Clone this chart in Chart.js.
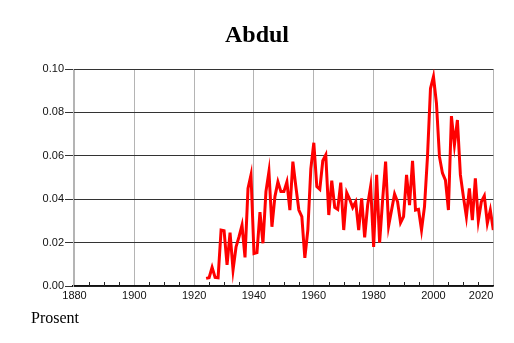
<!DOCTYPE html>
<html><head><meta charset="utf-8">
<script src="https://cdn.jsdelivr.net/npm/chart.js@4.4.0/dist/chart.umd.min.js"></script>
<style>html,body{margin:0;padding:0;background:#fff;}#c{display:block;}</style>
</head><body>
<canvas id="c" width="514" height="343"></canvas>
<script>
const titleText = "Abdul";
const yAxisCaption = "Prosent";
const years = [1924,1925,1926,1927,1928,1929,1930,1931,1932,1933,1934,1935,1936,1937,1938,1939,
1940,1941,1942,1943,1944,1945,1946,1947,1948,1949,1950,1951,1952,1953,1954,1955,1956,1957,1958,1959,
1960,1961,1962,1963,1964,1965,1966,1967,1968,1969,1970,1971,1972,1973,1974,1975,1976,1977,1978,1979,
1980,1981,1982,1983,1984,1985,1986,1987,1988,1989,1990,1991,1992,1993,1994,1995,1996,1997,1998,1999,
2000,2001,2002,2003,2004,2005,2006,2007,2008,2009,2010,2011,2012,2013,2014,2015,2016,2017,2018,2019,2020];
const values = [0.0035,0.0038,0.0086,0.0040,0.0038,0.0258,0.0255,0.0097,0.0246,0.0074,0.0180,0.0227,0.0280,0.0132,0.0450,0.0512,
0.0150,0.0154,0.0340,0.0197,0.0435,0.0527,0.0273,0.0412,0.0480,0.0435,0.0435,0.0480,0.0350,0.0573,0.0458,0.0350,0.0320,0.0130,0.0258,0.0540,
0.0660,0.0458,0.0445,0.0577,0.0604,0.0327,0.0485,0.0362,0.0353,0.0476,0.0258,0.0430,0.0400,0.0362,0.0388,0.0258,0.0404,0.0224,0.0373,0.0460,
0.0180,0.0512,0.0200,0.0396,0.0573,0.0276,0.0350,0.0424,0.0388,0.0292,0.0320,0.0512,0.0373,0.0577,0.0350,0.0353,0.0258,0.0366,0.0596,0.0910,
0.0965,0.0842,0.0596,0.0520,0.0488,0.0350,0.0783,0.0650,0.0765,0.0512,0.0412,0.0320,0.0450,0.0304,0.0496,0.0301,0.0388,0.0415,0.0289,0.0350,0.0258];
const xMajorTicks = [1880,1900,1920,1940,1960,1980,2000,2020];
const xMinorTicks = [1885,1890,1895,1905,1910,1915,1925,1930,1935,1945,1950,1955,1965,1970,1975,1985,1990,1995,2005,2010,2015];
const yTicks = [0,0.02,0.04,0.06,0.08,0.10];
const xMin = 1879.5, xMax = 2020;

const points = years.map((y,i)=>({x:y,y:values[i]}));

const extras = {
  id:'extras',
  afterDraw(chart){
    const ctx = chart.ctx, xs = chart.scales.x, area = chart.chartArea;
    ctx.save();
    ctx.strokeStyle = '#222';
    ctx.lineWidth = 1;
    xMinorTicks.forEach(v=>{
      const px = Math.round(xs.getPixelForValue(v)) + 0.5;
      ctx.beginPath(); ctx.moveTo(px, area.bottom); ctx.lineTo(px, area.bottom-4); ctx.stroke();
    });
    ctx.fillStyle = '#000';
    ctx.textAlign = 'center';
    ctx.textBaseline = 'alphabetic';
    ctx.font = 'bold 24px "Liberation Serif"';
    ctx.fillText(titleText, 257, 42);
    ctx.textAlign = 'left';
    ctx.font = '16px "Liberation Serif"';
    ctx.fillText(yAxisCaption, 31, 323);
    ctx.restore();
  }
};

new Chart(document.getElementById('c'), {
  type:'line',
  data:{datasets:[{data:points, borderColor:'#ff0000', borderWidth:3, pointRadius:0, tension:0, fill:false}]},
  options:{
    responsive:false, animation:false, devicePixelRatio:1,
    layout:{padding:{top:69,right:20.7,bottom:0,left:0}},
    plugins:{legend:{display:false},title:{display:false},tooltip:{enabled:false}},
    scales:{
      x:{type:'linear', min:xMin, max:xMax,
        afterFit(s){ s.height = 57; },
        afterBuildTicks(s){ s.ticks = [{value:xMin}].concat(xMajorTicks.map(v=>({value:v}))); },
        grid:{color:(c)=> (c.tick && c.tick.value % 20 === 0) ? '#b4b4b4' : 'rgba(0,0,0,0)', drawTicks:false, lineWidth:1},
        border:{color:'#111', width:1.5},
        ticks:{autoSkip:false, maxRotation:0, align:'inner', padding:3, color:'#111',
          font:{family:'"Liberation Sans"', size:11},
          callback:(v)=> (v % 20 === 0) ? String(v) : ''}
      },
      y:{min:0, max:0.1,
        afterFit(s){ s.width = 73; },
        afterBuildTicks(s){ s.ticks = yTicks.map(v=>({value:v})); },
        grid:{color:'#333', tickColor:'#333', tickLength:8, lineWidth:1},
        border:{color:'#b4b4b4', width:1},
        ticks:{padding:1, color:'#111', font:{family:'"Liberation Sans"', size:11},
          callback:(v)=> Number(v).toFixed(2)}
      }
    }
  },
  plugins:[extras]
});
</script>
</body></html>
